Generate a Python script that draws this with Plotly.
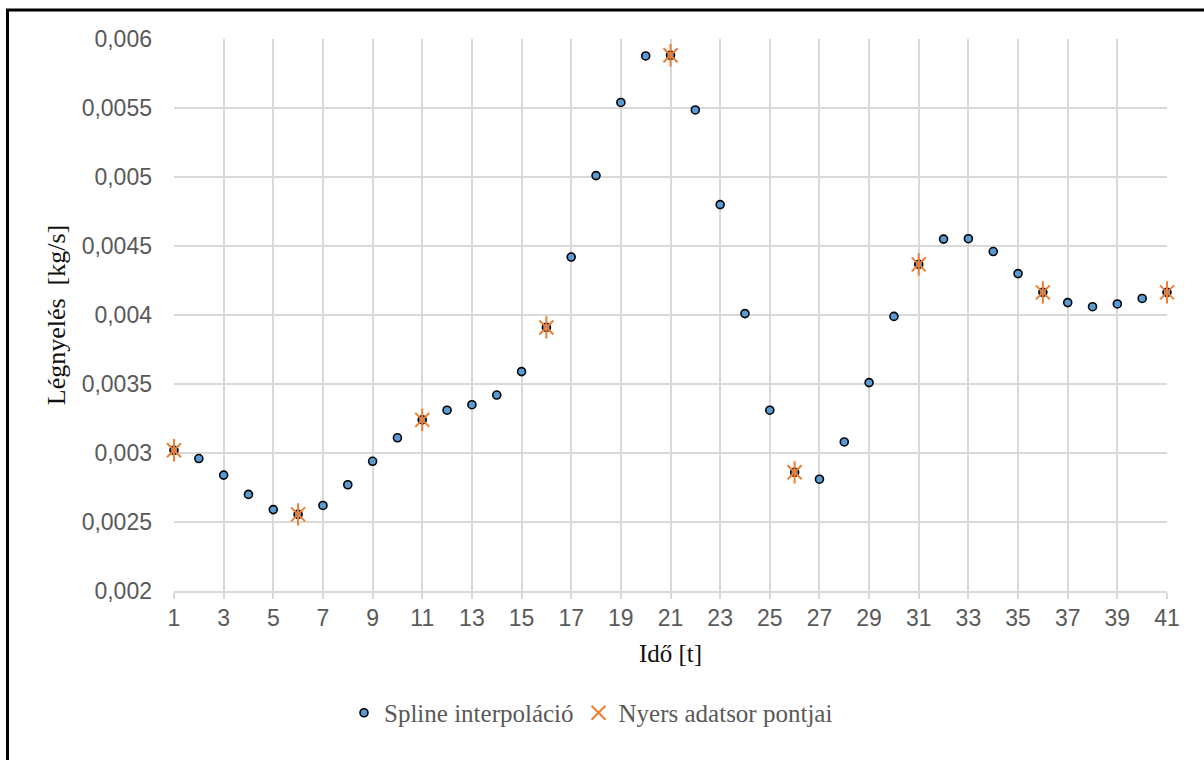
import plotly.graph_objects as go

# Time steps (category index on the x axis)
t_values = list(range(1, 42))

# Spline-interpolated air demand [kg/s]
spline_values = [
    0.00302, 0.00296, 0.00284, 0.00270, 0.00259, 0.002555, 0.00262, 0.00277,
    0.00294, 0.00311, 0.00324, 0.00331, 0.00335, 0.00342, 0.00359, 0.00391,
    0.00442, 0.00501, 0.00554, 0.005877, 0.005882, 0.005486, 0.00480, 0.00401,
    0.00331, 0.00286, 0.00281, 0.00308, 0.00351, 0.00399, 0.004367, 0.00455,
    0.004553, 0.00446, 0.00430, 0.004164, 0.00409, 0.00406, 0.00408, 0.00412,
    0.004164,
]

# Raw measurement points (every 5th time step)
raw_t = [1, 6, 11, 16, 21, 26, 31, 36, 41]
raw_values = [0.00302, 0.002555, 0.00324, 0.00391, 0.005882, 0.00286, 0.004367,
              0.004164, 0.004164]

y_tick_vals = [0.002, 0.0025, 0.003, 0.0035, 0.004, 0.0045, 0.005, 0.0055, 0.006]
y_tick_text = ["0,002", "0,0025", "0,003", "0,0035", "0,004", "0,0045", "0,005",
               "0,0055", "0,006"]
x_tick_vals = list(range(1, 42, 2))

GRID = "#d9d9d9"
ORANGE = "#ED7D31"
TICK_FONT = dict(family="Liberation Sans, Arial, sans-serif", size=23, color="#595959")
SERIF = "Liberation Serif, Times New Roman, serif"

fig = go.Figure()

fig.add_trace(go.Scatter(
    x=t_values, y=spline_values, mode="markers", name="Spline interpoláció",
    cliponaxis=False,
    marker=dict(symbol="circle", size=8, color="#5B9BD5",
                line=dict(color="#000000", width=1.6)),
))

# Star marker for raw points: diagonal cross plus a vertical bar
fig.add_trace(go.Scatter(
    x=raw_t, y=raw_values, mode="markers", name="Nyers adatsor pontjai",
    cliponaxis=False, legendgroup="raw",
    marker=dict(symbol="x-thin-open", size=14, color=ORANGE,
                line=dict(color=ORANGE, width=2)),
))
fig.add_trace(go.Scatter(
    x=raw_t, y=raw_values, mode="markers", name="Nyers adatsor pontjai",
    cliponaxis=False, legendgroup="raw", showlegend=False,
    marker=dict(symbol="line-ns-open", size=16, color=ORANGE,
                line=dict(color=ORANGE, width=2)),
))

fig.update_layout(
    width=1204, height=760,
    margin=dict(l=174, r=37, t=39, b=169),
    paper_bgcolor="white", plot_bgcolor="white",
    showlegend=True,
    legend=dict(orientation="h", x=(344 - 174) / 993, xanchor="left",
                y=-0.221, yanchor="middle",
                font=dict(family=SERIF, size=25, color="#595959"),
                itemsizing="trace", traceorder="normal"),
    xaxis=dict(
        range=[1, 41], tickmode="array", tickvals=x_tick_vals,
        showgrid=True, gridcolor=GRID, gridwidth=1.5,
        showline=True, linecolor=GRID, linewidth=1.5,
        ticks="outside", ticklen=6, tickcolor=GRID, tickwidth=1.5,
        tickfont=TICK_FONT, zeroline=False,
        title=dict(text="Idő [t]", font=dict(family=SERIF, size=25, color="#111111"),
                   standoff=14),
    ),
    yaxis=dict(
        range=[0.002, 0.006], tickmode="array", tickvals=y_tick_vals,
        ticktext=y_tick_text, showgrid=True, gridcolor=GRID, gridwidth=1.5,
        showline=False, zeroline=False, ticks="", ticklabelstandoff=21,
        tickfont=TICK_FONT,
        title=dict(text="Légnyelés\u00a0\u00a0[kg/s]",
                   font=dict(family=SERIF, size=26, color="#111111"),
                   standoff=8),
    ),
)

# Chart frame
fig.add_shape(type="rect", xref="paper", yref="paper",
              x0=(7.5 - 174) / 993, x1=(1215 - 174) / 993,
              y0=(591 - 775) / 552, y1=(591 - 10) / 552,
              line=dict(color="#000000", width=3), fillcolor="rgba(0,0,0,0)",
              layer="above")

fig.write_html("out.html")
